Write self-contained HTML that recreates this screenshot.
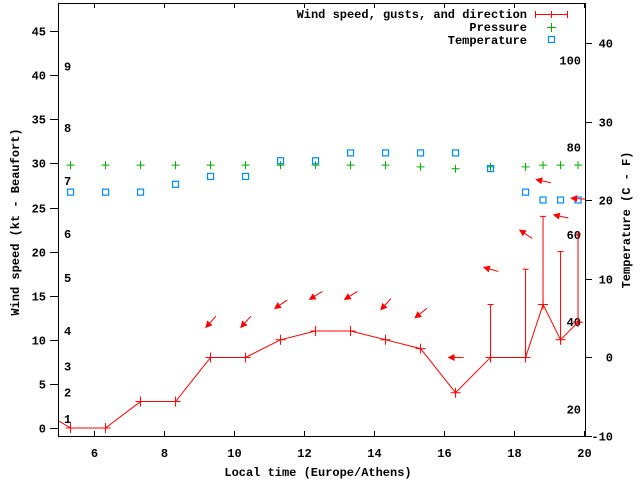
<!DOCTYPE html>
<html><head><meta charset="utf-8"><style>
html,body{margin:0;padding:0;background:#fff;}
svg{display:block;font-family:"Liberation Mono",monospace;font-weight:bold;font-size:12px;}
</style></head><body>
<svg id="chart" width="640" height="480" xmlns="http://www.w3.org/2000/svg">
<defs><clipPath id="clip"><rect x="59" y="3" width="526" height="433"/></clipPath></defs>
<rect x="58.5" y="3.5" width="527" height="433" fill="none" stroke="#000"/>
<g id="axes"></g>
<g id="plot" clip-path="url(#clip)"></g>
<text transform="translate(19,222) rotate(-90)" text-anchor="middle">Wind speed (kt - Beaufort)</text>
<text transform="translate(630,220) rotate(-90)" text-anchor="middle">Temperature (C - F)</text>
<text x="318" y="476" text-anchor="middle">Local time (Europe/Athens)</text>
<g>
<text x="527" y="18" text-anchor="end">Wind speed, gusts, and direction</text>
<path d="M535.5 14.5H567.5M535.5 11V18M551.5 11V18M567.5 11V18" stroke="#f00" fill="none"/>
<text x="527" y="31" text-anchor="end">Pressure</text>
<path d="M547 27.5H556M551.5 23V32" stroke="#0a0"/>
<text x="527" y="44" text-anchor="end">Temperature</text>
<rect x="548.5" y="36.5" width="6" height="6" fill="none" stroke="#08f" stroke-width="1.2"/>
</g>
</svg>
<script>
const times=[5.33,6.33,7.33,8.33,9.33,10.33,11.33,12.33,13.33,14.33,15.33,16.33,17.33,18.33,18.83,19.33,19.83];
const wind=[0,0,3,3,8,8,10,11,11,10,9,4,8,8,14,10,12];
const gust=[0,0,3,3,8,8,10,11,11,10,9,4,14,18,24,20,22];
const windDir=[null,null,null,null,42,42,56,58,58,42,51,90,106,124,102,102,94];
const pressure=[29.8,29.8,29.8,29.8,29.8,29.8,29.8,29.8,29.8,29.8,29.6,29.4,29.6,29.6,29.8,29.8,29.8];
const temps=[21,21,21,22,23,23,25,25,26,26,26,26,24,21,20,20,20];
const xTicks=[6,8,10,12,14,16,18,20];
const yTicks=[0,5,10,15,20,25,30,35,40,45];
const y2Ticks=[-10,0,10,20,30,40];
const beaufortLabels=["1","2","3","4","5","6","7","8","9"];
const beaufortKt=[1,4,7,11,17,22,28,34,41];
const fLabels=[20,40,60,80,100];
const NS="http://www.w3.org/2000/svg";
const xs=v=>59+(v-5)*35;
const yL=v=>428-v*8.82;
const yR=c=>357-c*7.85;
const yF=f=>yR((f-32)*5/9);
function mk(tag,attrs,parent,txt){const e=document.createElementNS(NS,tag);for(const k in attrs)e.setAttribute(k,attrs[k]);if(txt!==undefined)e.textContent=txt;parent.appendChild(e);return e;}
const ax=document.getElementById('axes'),pl=document.getElementById('plot');
xTicks.forEach(t=>{const x=Math.round(xs(t))+0.5;
 const l=mk('path',{d:`M${x} 436V431M${x} 3V8`,stroke:'#000'},ax);
 
 
 const tx=mk('text',{x:x,y:457,'text-anchor':'middle'},ax,String(t));
 
 });
yTicks.forEach(t=>{const y=Math.round(yL(t))+0.5;
 const l=mk('path',{d:`M50 ${y}H58`,stroke:'#000'},ax);
 
 
 const tx=mk('text',{x:46,y:y+4,'text-anchor':'end'},ax,String(t));
 
 });
y2Ticks.forEach(t=>{const y=Math.round(yR(t))+0.5;
 const l=mk('path',{d:`M585 ${y}H592`,stroke:'#000'},ax);
 
 
 const tx=mk('text',{x:613,y:y+4,'text-anchor':'end'},ax,String(t));
 
 });
beaufortLabels.forEach((b,i)=>{const tx=mk('text',{x:64,y:yL(beaufortKt[i])+4},ax,b);
 
 });
fLabels.forEach(f=>{const tx=mk('text',{x:581,y:yF(f)+4,'text-anchor':'end'},ax,String(f));
 
 });
pressure.forEach((p,i)=>{const x=xs(times[i]),y=yL(p);
 const m=mk('path',{d:`M${x-4} ${y}H${x+4}M${x} ${y-4}V${y+4}`,stroke:'#0a0'},pl);
 
 });
temps.forEach((c,i)=>{const r=mk('rect',{x:xs(times[i])-3,y:yR(c)-3,width:6,height:6,fill:'none',stroke:'#08f','stroke-width':1.2},pl);
 
 });
let d=`M59 421`;times.forEach((t,i)=>{d+=`L${xs(t)} ${yL(wind[i])}`;});
const wl=mk('path',{d:d,fill:'none',stroke:'#f00'},pl);


times.forEach((t,i)=>{const x=xs(t),y=yL(wind[i]);
 const m=mk('path',{d:`M${x-5} ${y}H${x+5}M${x} ${y-5}V${y+5}`,stroke:'#f00'},pl);
 
 
 if(gust[i]>wind[i]){const g=yL(gust[i]);
  const e=mk('path',{d:`M${x} ${y}V${g}M${x-3} ${g}H${x+3}`,stroke:'#f00'},pl);
  
  }
 if(windDir[i]!==null){const cy=yL(gust[i]+4),a=windDir[i]*Math.PI/180,L=16;
  const ux=Math.sin(a),uy=-Math.cos(a);
  const hx=x-ux*L/2,hy=cy-uy*L/2,tx=x+ux*L/2,ty=cy+uy*L/2;
  const px=-uy,py=ux,h=7,w=3.5;
  const bx=hx+ux*h,by=hy+uy*h;
  const g=mk('g',{},pl);
  
  
  mk('path',{d:`M${tx} ${ty}L${bx} ${by}`,stroke:'#f00'},g);
  mk('path',{d:`M${hx} ${hy}L${bx+px*w} ${by+py*w}L${bx-px*w} ${by-py*w}Z`,fill:'#f00'},g);}
});
</script>
</body></html>
